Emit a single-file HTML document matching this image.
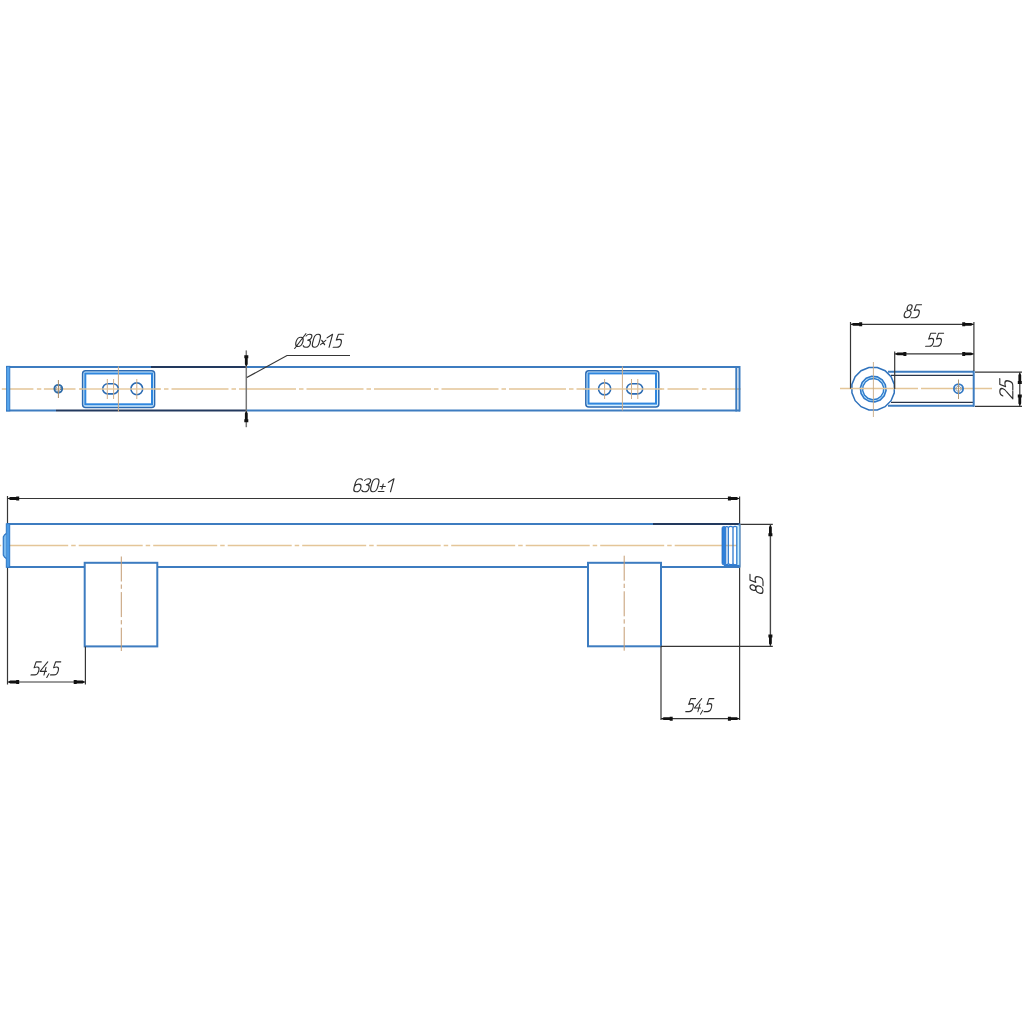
<!DOCTYPE html>
<html><head><meta charset="utf-8">
<style>
html,body{margin:0;padding:0;background:#fff;width:1024px;height:1024px;overflow:hidden}
svg{display:block}
.b{stroke:#3d7cc0;stroke-width:2;fill:none}
.n{stroke:#22395e;stroke-width:2;fill:none}
.d{stroke:#363636;stroke-width:1.2;fill:none}
.c{stroke:#e4c598;stroke-width:1.5;fill:none}
.cv{stroke:#cfad86;stroke-width:1;fill:none}
.ar{fill:#111;stroke:none}
</style></head><body>
<svg width="1024" height="1024" viewBox="0 0 1024 1024">
<!-- ============ TOP VIEW ============ -->
<line class="c" x1="1.8" y1="389" x2="82" y2="389" stroke-dasharray="31.6 3.5 4.4 2.6"/>
<line class="c" x1="155" y1="389" x2="586" y2="389" stroke-dasharray="57 3 4.5 3" stroke-dashoffset="51"/>
<line class="c" x1="658.5" y1="389" x2="742" y2="389" stroke-dasharray="31 3.5 4.5 3.3" stroke-dashoffset="33.3"/>
<line class="b" x1="6" y1="367" x2="151" y2="367"/>
<line class="n" x1="151" y1="367" x2="246" y2="367"/>
<line class="b" x1="246" y1="367" x2="740" y2="367"/>
<line class="b" x1="6" y1="410.5" x2="56" y2="410.5"/>
<line class="n" x1="56" y1="410.5" x2="246" y2="410.5"/>
<line class="b" x1="246" y1="410.5" x2="740" y2="410.5"/>
<rect x="6.6" y="366.3" width="3.2" height="44.6" fill="#56a6ee" stroke="#2f74c0" stroke-width="0.9"/>
<line class="b" x1="739.5" y1="366" x2="739.5" y2="411.5"/>
<line class="b" x1="736.3" y1="366" x2="736.3" y2="411.5"/>
<circle cx="58.3" cy="388.8" r="3.9" stroke="#2f6ca8" stroke-width="1.9" fill="none"/>
<circle cx="58.3" cy="388.8" r="2.4" stroke="#1c3c64" stroke-width="0.8" fill="none" stroke-dasharray="1 1"/>
<line x1="58.4" y1="380" x2="58.4" y2="398" stroke="#a88a66" stroke-width="1"/>
<!-- left plate -->
<rect x="82.6" y="370.8" width="72" height="36.6" rx="3" fill="#d6f0ff" stroke="#2c6ab2" stroke-width="1.5"/>
<rect x="85.3" y="373.5" width="66.7" height="30.8" fill="#fff" stroke="#2f86de" stroke-width="2"/>
<line class="cv" x1="118.4" y1="366.4" x2="118.4" y2="411.8"/>
<rect x="102.7" y="383.7" width="15.6" height="10.2" rx="5.1" stroke="#2a6ab2" stroke-width="1.6" fill="none"/>
<line class="cv" x1="107.3" y1="379" x2="107.3" y2="399"/>
<line class="cv" x1="113.6" y1="379" x2="113.6" y2="399"/>
<circle cx="136.8" cy="388.8" r="5.9" stroke="#2a6ab2" stroke-width="1.6" fill="none"/>
<line class="cv" x1="136.8" y1="379" x2="136.8" y2="399"/>
<!-- right plate -->
<rect x="585.8" y="370.7" width="73" height="36.4" rx="3" fill="#d6f0ff" stroke="#2c6ab2" stroke-width="1.5"/>
<rect x="588.5" y="373.4" width="67.5" height="30.2" fill="#fff" stroke="#2f86de" stroke-width="2"/>
<line class="cv" x1="622.4" y1="366.4" x2="622.4" y2="410.5"/>
<circle cx="604.6" cy="388.8" r="6.1" stroke="#2a6ab2" stroke-width="1.6" fill="none"/>
<line class="cv" x1="604.6" y1="379" x2="604.6" y2="399"/>
<rect x="626.7" y="383.7" width="16" height="10.2" rx="5.1" stroke="#2a6ab2" stroke-width="1.6" fill="none"/>
<line class="cv" x1="631.5" y1="379" x2="631.5" y2="399"/>
<line class="cv" x1="637.8" y1="379" x2="637.8" y2="399"/>
<!-- centerline over plates -->
<line class="c" x1="80" y1="389" x2="160" y2="389" stroke-dasharray="none" style="opacity:.9"/>
<line class="c" x1="583" y1="389" x2="662" y2="389" stroke-dasharray="none" style="opacity:.9"/>
<!-- diameter dimension -->
<line x1="246.3" y1="350.4" x2="246.3" y2="427.2" stroke="#777" stroke-width="1.5"/>
<polygon class="ar" transform="translate(246.3,366.5) rotate(-90)" points="0,0 2.2,-1.4 8.2,-1.4 8.2,-2.0 11.2,-2.0 11.2,2.0 8.2,2.0 8.2,1.4 2.2,1.4"/>
<polygon class="ar" transform="translate(246.3,411) rotate(90)" points="0,0 2.2,-1.4 8.2,-1.4 8.2,-2.0 11.2,-2.0 11.2,2.0 8.2,2.0 8.2,1.4 2.2,1.4"/>
<polyline class="d" points="246.8,377.5 287,355.5 350,355.5"/>
<g transform="translate(294.60,347.30)" fill="none" stroke="#2e2e2e" stroke-width="1.15" stroke-linecap="round" stroke-linejoin="round"><g transform="skewX(-15) scale(1.0000,1)"><path transform="translate(0.00,0)" d="M3.5,-10 Q0,-10 0,-5.2 Q0,-0.8 3.3,-0.8 Q6.8,-0.8 6.8,-5.6 Q6.8,-10 3.5,-10 Z M0.4,1.2 L7.6,-13.6"/><path transform="translate(8.20,0)" d="M0.3,-11.3 Q1.3,-13 3.4,-13 Q6.2,-13 6.2,-10.2 Q6.2,-7.2 3,-7.2 Q6.5,-7.2 6.5,-3.6 Q6.5,0 3.2,0 Q1,0 0,-1.6"/><path transform="translate(16.80,0)" d="M3.25,-13 Q0,-13 0,-8.5 L0,-4.5 Q0,0 3.25,0 Q6.5,0 6.5,-4.5 L6.5,-8.5 Q6.5,-13 3.25,-13 Z"/><path transform="translate(25.00,0)" d="M0.3,-7 L4.3,-2.6 M4.3,-7 L0.3,-2.6"/><path transform="translate(30.00,0)" d="M0,-9.5 L4.5,-13 L4.5,0"/><path transform="translate(38.90,0)" d="M6.6,-13 L1.4,-13 L0.9,-7.2 Q2.3,-7.9 3.7,-7.9 Q6.5,-7.9 6.5,-4.4 L6.5,-3.4 Q6.5,0 3.4,0 L-0.3,0"/></g></g>

<!-- ============ SIDE VIEW ============ -->
<polygon points="894.28,392.91 891.06,400.70 885.10,406.66 877.31,409.88 868.89,409.88 861.10,406.66 855.14,400.70 851.92,392.91 851.92,384.49 855.14,376.70 861.10,370.74 868.89,367.52 877.31,367.52 885.10,370.74 891.06,376.70 894.28,384.49" stroke="#2f72bc" stroke-width="1.5" fill="none"/>
<polygon points="886.04,390.39 884.21,395.83 880.20,399.94 874.80,401.90 869.09,401.33 864.19,398.33 861.08,393.51 860.36,387.81 862.19,382.37 866.20,378.26 871.60,376.30 877.31,376.87 882.21,379.87 885.32,384.69" stroke="#2f78c8" stroke-width="1.6" fill="#c6ecff"/>
<polygon points="883.33,392.23 880.96,396.32 877.06,398.97 872.40,399.67 867.89,398.28 864.44,395.06 862.72,390.67 863.07,385.97 865.44,381.88 869.34,379.23 874.00,378.53 878.51,379.92 881.96,383.14 883.68,387.53" stroke="#2f7ccc" stroke-width="1.4" fill="#fff"/>
<line class="c" x1="840" y1="388.6" x2="992" y2="388.6" stroke-dasharray="78 3 200"/>
<line x1="873.4" y1="362" x2="873.4" y2="417" stroke="#c8aa84" stroke-width="0.9"/>
<line class="b" x1="888" y1="371.7" x2="974" y2="371.7"/>
<line x1="891" y1="375.3" x2="974" y2="375.3" stroke="#2a3548" stroke-width="1.2"/>
<line x1="891" y1="402.4" x2="974" y2="402.4" stroke="#2a3548" stroke-width="1.2"/>
<line class="b" x1="888" y1="405.8" x2="974" y2="405.8"/>
<line class="b" x1="973.7" y1="370.7" x2="973.7" y2="406.8"/>
<circle cx="958.5" cy="388.7" r="4.6" stroke="#3278c4" stroke-width="1.8" fill="none"/>
<circle cx="958.5" cy="388.7" r="2.6" stroke="#1f4a7a" stroke-width="0.8" fill="none" stroke-dasharray="1.2 0.8"/>
<line x1="958.5" y1="379.5" x2="958.5" y2="399" stroke="#b09878" stroke-width="1"/>
<!-- dim 85 -->
<line class="d" x1="850.5" y1="322" x2="850.5" y2="388.6"/>
<line class="d" x1="973.9" y1="322" x2="973.9" y2="371"/>
<line class="d" x1="850.5" y1="324.3" x2="973.9" y2="324.3" stroke="#464646"/>
<polygon class="ar" transform="translate(851,324.3) rotate(0)" points="0,0 2.2,-1.4 8.2,-1.4 8.2,-2.0 11.2,-2.0 11.2,2.0 8.2,2.0 8.2,1.4 2.2,1.4"/>
<polygon class="ar" transform="translate(973.4,324.3) rotate(180)" points="0,0 2.2,-1.4 8.2,-1.4 8.2,-2.0 11.2,-2.0 11.2,2.0 8.2,2.0 8.2,1.4 2.2,1.4"/>
<g transform="translate(903.40,317.70)" fill="none" stroke="#2e2e2e" stroke-width="1.15" stroke-linecap="round" stroke-linejoin="round"><g transform="skewX(-15) scale(0.9943,1)"><path transform="translate(0.00,0)" d="M3.25,-7.2 Q1.2,-7.2 1.2,-10.1 Q1.2,-13 3.4,-13 Q5.9,-13 5.9,-10.1 Q5.9,-7.2 3.25,-7.2 Q0,-7.2 0,-3.6 Q0,0 3.25,0 Q6.5,0 6.5,-3.6 Q6.5,-7.2 3.25,-7.2 Z"/><path transform="translate(8.10,0)" d="M6.6,-13 L1.4,-13 L0.9,-7.2 Q2.3,-7.9 3.7,-7.9 Q6.5,-7.9 6.5,-4.4 L6.5,-3.4 Q6.5,0 3.4,0 L-0.3,0"/></g></g>
<!-- dim 55 -->
<line class="d" x1="894.7" y1="351.5" x2="894.7" y2="389"/>
<line class="d" x1="894.7" y1="353.9" x2="973.9" y2="353.9" stroke="#464646"/>
<polygon class="ar" transform="translate(895.2,353.9) rotate(0)" points="0,0 2.2,-1.4 8.2,-1.4 8.2,-2.0 11.2,-2.0 11.2,2.0 8.2,2.0 8.2,1.4 2.2,1.4"/>
<polygon class="ar" transform="translate(973.4,353.9) rotate(180)" points="0,0 2.2,-1.4 8.2,-1.4 8.2,-2.0 11.2,-2.0 11.2,2.0 8.2,2.0 8.2,1.4 2.2,1.4"/>
<g transform="translate(925.90,346.30)" fill="none" stroke="#2e2e2e" stroke-width="1.15" stroke-linecap="round" stroke-linejoin="round"><g transform="skewX(-15) scale(0.9669,1)"><path transform="translate(0.00,0)" d="M6.6,-13 L1.4,-13 L0.9,-7.2 Q2.3,-7.9 3.7,-7.9 Q6.5,-7.9 6.5,-4.4 L6.5,-3.4 Q6.5,0 3.4,0 L-0.3,0"/><path transform="translate(8.10,0)" d="M6.6,-13 L1.4,-13 L0.9,-7.2 Q2.3,-7.9 3.7,-7.9 Q6.5,-7.9 6.5,-4.4 L6.5,-3.4 Q6.5,0 3.4,0 L-0.3,0"/></g></g>
<!-- dim 25 -->
<line class="d" x1="975" y1="372.2" x2="1022" y2="372.2"/>
<line class="d" x1="975" y1="406.3" x2="1022" y2="406.3"/>
<line class="d" x1="1019.8" y1="372.2" x2="1019.8" y2="406.3" stroke="#464646"/>
<polygon class="ar" transform="translate(1019.8,372.8) rotate(90)" points="0,0 2.2,-1.4 8.2,-1.4 8.2,-2.0 11.2,-2.0 11.2,2.0 8.2,2.0 8.2,1.4 2.2,1.4"/>
<polygon class="ar" transform="translate(1019.8,405.7) rotate(-90)" points="0,0 2.2,-1.4 8.2,-1.4 8.2,-2.0 11.2,-2.0 11.2,2.0 8.2,2.0 8.2,1.4 2.2,1.4"/>
<g transform="translate(1012.80,398.70) rotate(-90)" fill="none" stroke="#2e2e2e" stroke-width="1.15" stroke-linecap="round" stroke-linejoin="round"><g transform="skewX(-15) scale(1.1313,1)"><path transform="translate(0.00,0)" d="M0.1,-10 Q0.4,-13 3.25,-13 Q6.5,-13 6.5,-10 Q6.5,-8 4.5,-6 L0,0 L6.6,0"/><path transform="translate(8.10,0)" d="M6.6,-13 L1.4,-13 L0.9,-7.2 Q2.3,-7.9 3.7,-7.9 Q6.5,-7.9 6.5,-4.4 L6.5,-3.4 Q6.5,0 3.4,0 L-0.3,0"/></g></g>

<!-- ============ FRONT VIEW ============ -->
<line class="d" x1="7.5" y1="496" x2="7.5" y2="684.5"/>
<line class="d" x1="739.6" y1="496.5" x2="739.6" y2="720"/>
<line class="d" x1="7.5" y1="498.5" x2="739.6" y2="498.5" stroke="#464646"/>
<polygon class="ar" transform="translate(8,498.5) rotate(0)" points="0,0 2.2,-1.4 8.2,-1.4 8.2,-2.0 11.2,-2.0 11.2,2.0 8.2,2.0 8.2,1.4 2.2,1.4"/>
<polygon class="ar" transform="translate(739.1,498.5) rotate(180)" points="0,0 2.2,-1.4 8.2,-1.4 8.2,-2.0 11.2,-2.0 11.2,2.0 8.2,2.0 8.2,1.4 2.2,1.4"/>
<g transform="translate(353.00,491.80)" fill="none" stroke="#2e2e2e" stroke-width="1.15" stroke-linecap="round" stroke-linejoin="round"><g transform="skewX(-15) scale(1.0307,1)"><path transform="translate(0.00,0)" d="M6.1,-11.8 Q5.2,-13 3.5,-13 Q0,-13 0,-8.2 L0,-4 Q0,0 3.25,0 Q6.5,0 6.5,-3.9 Q6.5,-7.6 3.25,-7.6 Q0.6,-7.6 0,-5.2"/><path transform="translate(8.10,0)" d="M0.3,-11.3 Q1.3,-13 3.4,-13 Q6.2,-13 6.2,-10.2 Q6.2,-7.2 3,-7.2 Q6.5,-7.2 6.5,-3.6 Q6.5,0 3.2,0 Q1,0 0,-1.6"/><path transform="translate(16.20,0)" d="M3.25,-13 Q0,-13 0,-8.5 L0,-4.5 Q0,0 3.25,0 Q6.5,0 6.5,-4.5 L6.5,-8.5 Q6.5,-13 3.25,-13 Z"/><path transform="translate(24.30,0)" d="M3,-7.8 L3,-2.9 M0.6,-5.3 L5.6,-5.3 M0.2,-0.3 L5.6,-0.3"/><path transform="translate(31.90,0)" d="M0,-9.5 L4.5,-13 L4.5,0"/></g></g>
<line class="c" x1="0" y1="545.6" x2="740" y2="545.6" stroke-dasharray="64 3 4.5 3" stroke-dashoffset="-4.2"/>
<line class="b" x1="7" y1="524.1" x2="653" y2="524.1"/>
<line class="n" x1="653" y1="524.1" x2="740" y2="524.1"/>
<line class="b" x1="7" y1="566.9" x2="85" y2="566.9"/>
<line class="b" x1="157" y1="566.9" x2="588" y2="566.9"/>
<line class="b" x1="661" y1="566.9" x2="740" y2="566.9"/>
<rect x="6.3" y="523.8" width="3.4" height="43.5" fill="#4b9be6" stroke="#2f78c6" stroke-width="1"/>
<path d="M6.3,533.5 L4.5,535 L3.3,537 L3.3,555 L4.5,557 L6.3,558.5" stroke="#2f78c6" stroke-width="1.2" fill="#79b9ee"/>
<line class="b" x1="739.5" y1="523.5" x2="739.5" y2="567.5"/>
<rect x="736.8" y="525.5" width="2.5" height="40" fill="#c8f0ff"/>
<rect x="722" y="526.4" width="3.9" height="38.5" rx="1.8" fill="#2f80da" stroke="#2a70c4" stroke-width="0.8"/>
<path d="M725.2,527.6 Q726.8,525.9 728.3,527.4 L728.3,563.8 Q726.8,565.4 725.2,563.8" fill="none" stroke="#2f7bd0" stroke-width="1.3"/>
<path d="M728.3,527.4 Q730.6,525.6 733,527.2 L733,564 Q730.6,565.6 728.3,563.8" fill="none" stroke="#2f7bd0" stroke-width="1.3"/>
<path d="M733,527.2 Q735,525.8 736.8,527 L736.8,564.2 Q735,565.5 733,564" fill="none" stroke="#2f7bd0" stroke-width="1.3"/>
<line x1="724" y1="565.6" x2="739.5" y2="565.6" stroke="#2f7bd0" stroke-width="1.4"/>
<rect x="84.7" y="562.8" width="72.6" height="83.6" class="b"/>
<line class="cv" x1="121.3" y1="556.5" x2="121.3" y2="651" stroke-dasharray="25 3 4.3 3.3" style="stroke:#c49c72"/>
<rect x="588" y="562.8" width="73" height="83.5" class="b"/>
<line class="cv" x1="624.2" y1="555.7" x2="624.2" y2="650.7" stroke-dasharray="25 3 4.3 3.3" style="stroke:#c49c72"/>
<!-- dim 85 vertical -->
<line class="d" x1="740.5" y1="524.3" x2="772.8" y2="524.3"/>
<line class="d" x1="661" y1="646.3" x2="772.8" y2="646.3"/>
<line x1="770.4" y1="524.3" x2="770.4" y2="646.3" stroke="#464646" stroke-width="1.4"/>
<polygon class="ar" transform="translate(770.4,525) rotate(90)" points="0,0 2.2,-1.4 8.2,-1.4 8.2,-2.0 11.2,-2.0 11.2,2.0 8.2,2.0 8.2,1.4 2.2,1.4"/>
<polygon class="ar" transform="translate(770.4,645.6) rotate(-90)" points="0,0 2.2,-1.4 8.2,-1.4 8.2,-2.0 11.2,-2.0 11.2,2.0 8.2,2.0 8.2,1.4 2.2,1.4"/>
<g transform="translate(763.00,594.20) rotate(-90)" fill="none" stroke="#2e2e2e" stroke-width="1.15" stroke-linecap="round" stroke-linejoin="round"><g transform="skewX(-15) scale(1.1039,1)"><path transform="translate(0.00,0)" d="M3.25,-7.2 Q1.2,-7.2 1.2,-10.1 Q1.2,-13 3.4,-13 Q5.9,-13 5.9,-10.1 Q5.9,-7.2 3.25,-7.2 Q0,-7.2 0,-3.6 Q0,0 3.25,0 Q6.5,0 6.5,-3.6 Q6.5,-7.2 3.25,-7.2 Z"/><path transform="translate(8.10,0)" d="M6.6,-13 L1.4,-13 L0.9,-7.2 Q2.3,-7.9 3.7,-7.9 Q6.5,-7.9 6.5,-4.4 L6.5,-3.4 Q6.5,0 3.4,0 L-0.3,0"/></g></g>
<!-- dim 54,5 left -->
<line class="d" x1="85.4" y1="646.4" x2="85.4" y2="684.5"/>
<line class="d" x1="7.5" y1="682" x2="85.4" y2="682" stroke="#464646"/>
<polygon class="ar" transform="translate(8,682) rotate(0)" points="0,0 2.2,-1.4 8.2,-1.4 8.2,-2.0 11.2,-2.0 11.2,2.0 8.2,2.0 8.2,1.4 2.2,1.4"/>
<polygon class="ar" transform="translate(84.9,682) rotate(180)" points="0,0 2.2,-1.4 8.2,-1.4 8.2,-2.0 11.2,-2.0 11.2,2.0 8.2,2.0 8.2,1.4 2.2,1.4"/>
<g transform="translate(31.30,674.90)" fill="none" stroke="#2e2e2e" stroke-width="1.15" stroke-linecap="round" stroke-linejoin="round"><g transform="skewX(-15) scale(0.9742,1)"><path transform="translate(0.00,0)" d="M6.6,-13 L1.4,-13 L0.9,-7.2 Q2.3,-7.9 3.7,-7.9 Q6.5,-7.9 6.5,-4.4 L6.5,-3.4 Q6.5,0 3.4,0 L-0.3,0"/><path transform="translate(8.10,0)" d="M5.2,-13 L0,-3.6 L6.5,-3.6 M4.9,-7.5 L4.9,0"/><path transform="translate(16.20,0)" d="M1.6,-1.2 L0.4,2.6"/><path transform="translate(20.00,0)" d="M6.6,-13 L1.4,-13 L0.9,-7.2 Q2.3,-7.9 3.7,-7.9 Q6.5,-7.9 6.5,-4.4 L6.5,-3.4 Q6.5,0 3.4,0 L-0.3,0"/></g></g>
<!-- dim 54,5 right -->
<line class="d" x1="661" y1="646.3" x2="661" y2="720"/>
<line class="d" x1="661" y1="718.7" x2="739.6" y2="718.7" stroke="#464646"/>
<polygon class="ar" transform="translate(661.5,718.7) rotate(0)" points="0,0 2.2,-1.4 8.2,-1.4 8.2,-2.0 11.2,-2.0 11.2,2.0 8.2,2.0 8.2,1.4 2.2,1.4"/>
<polygon class="ar" transform="translate(739.1,718.7) rotate(180)" points="0,0 2.2,-1.4 8.2,-1.4 8.2,-2.0 11.2,-2.0 11.2,2.0 8.2,2.0 8.2,1.4 2.2,1.4"/>
<g transform="translate(686.00,711.60)" fill="none" stroke="#2e2e2e" stroke-width="1.15" stroke-linecap="round" stroke-linejoin="round"><g transform="skewX(-15) scale(0.9176,1)"><path transform="translate(0.00,0)" d="M6.6,-13 L1.4,-13 L0.9,-7.2 Q2.3,-7.9 3.7,-7.9 Q6.5,-7.9 6.5,-4.4 L6.5,-3.4 Q6.5,0 3.4,0 L-0.3,0"/><path transform="translate(8.10,0)" d="M5.2,-13 L0,-3.6 L6.5,-3.6 M4.9,-7.5 L4.9,0"/><path transform="translate(16.20,0)" d="M1.6,-1.2 L0.4,2.6"/><path transform="translate(20.00,0)" d="M6.6,-13 L1.4,-13 L0.9,-7.2 Q2.3,-7.9 3.7,-7.9 Q6.5,-7.9 6.5,-4.4 L6.5,-3.4 Q6.5,0 3.4,0 L-0.3,0"/></g></g>
</svg>
</body></html>
